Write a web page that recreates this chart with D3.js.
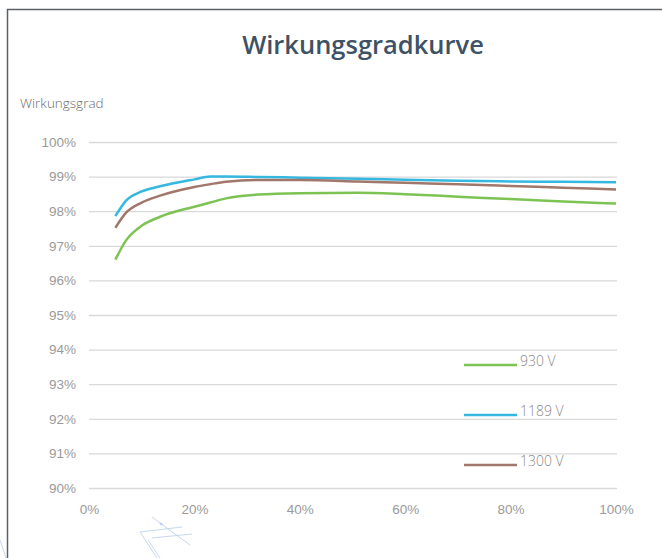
<!DOCTYPE html>
<meta charset="utf-8">
<style>
  body { margin: 0; background: #fff; }
  svg { font-family: "Open Sans", "Noto Sans", sans-serif; }
  .grid line { stroke: #d9d9d9; stroke-width: 1.3; }
  .grid path { display: none; }
  .axis path, .axis line { display: none; }
  .axis text { fill: #9a9a9a; font-size: 13.5px; font-weight: 300; }
  .legend text { fill: #8a8a8a; font-size: 14px; font-weight: 300; }
</style>
<body>
<script src="https://cdn.jsdelivr.net/npm/d3@7"></script>
<script>
  // load in percent
  var load = [5, 7, 10, 13.5, 20, 23, 26, 32, 40, 51, 60, 70, 80, 90, 100];

  // efficiency in percent, one list per DC voltage
  var eff930 = [96.6, 97.15, 97.58, 97.84, 98.13, 98.25, 98.37, 98.48, 98.52, 98.53, 98.49, 98.42, 98.35, 98.28, 98.22];
  var eff1189 = [97.86, 98.3, 98.57, 98.72, 98.92, 99.0, 99.0, 98.99, 98.97, 98.94, 98.91, 98.88, 98.86, 98.85, 98.84];
  var eff1300 = [97.52, 97.95, 98.25, 98.45, 98.7, 98.78, 98.85, 98.9, 98.9, 98.86, 98.82, 98.78, 98.73, 98.68, 98.63];

  var seriesNames = ["930 V", "1189 V", "1300 V"];
  var seriesColors = ["#7cc354", "#35b8e0", "#a0776a"];
  var yTicks = [90, 91, 92, 93, 94, 95, 96, 97, 98, 99, 100];
  var xTicks = [0, 20, 40, 60, 80, 100];

  var W = 662, H = 558;
  var svg = d3.select("body").append("svg").attr("width", W).attr("height", H);

  // outer frame (only top/left edges visible)
  svg.append("path")
    .attr("d", "M7.5," + H + "V9.5H" + W)
    .attr("fill", "none")
    .attr("stroke", "#5a6066")
    .attr("stroke-width", 1.5);

  // faint decorative strokes near the bottom
  var deco = svg.append("g").attr("stroke", "#b7cbe8").attr("stroke-width", 0.8).attr("fill", "none");
  deco.append("path").attr("d", "M152,517 L190,545");
  deco.append("path").attr("d", "M140,532 L157,558");
  deco.append("path").attr("d", "M148,540 L160,558");
  deco.append("path").attr("d", "M140,532 L182,527");
  deco.append("path").attr("d", "M152,538 L192,534");
  deco.append("path").attr("d", "M0,540 L6,558");
  deco.append("circle").attr("cx", 161).attr("cy", 524).attr("r", 1).attr("fill", "#b7cbe8");

  svg.append("text")
    .attr("x", 363).attr("y", 54)
    .attr("text-anchor", "middle")
    .attr("fill", "#3e5266")
    .style("font-size", "25.5px")
    .style("font-weight", "600")
    .text("Wirkungsgradkurve");

  svg.append("text")
    .attr("x", 20).attr("y", 108)
    .attr("fill", "#6b6b6b")
    .style("font-size", "13.5px")
    .style("font-weight", "300")
    .text("Wirkungsgrad");

  var x = d3.scaleLinear().domain([0, 100]).range([89, 616]);
  var y = d3.scaleLinear().domain([90, 100]).range([488, 142]);

  svg.append("g")
    .attr("class", "grid")
    .attr("transform", "translate(89,0)")
    .call(d3.axisLeft(y).tickValues(yTicks).tickSize(-528).tickFormat(""));

  svg.append("g")
    .attr("class", "axis")
    .attr("transform", "translate(76,0)")
    .call(d3.axisLeft(y).tickValues(yTicks).tickSize(0).tickPadding(0).tickFormat(function (d) { return d + "%"; }));

  svg.append("g")
    .attr("class", "axis")
    .attr("transform", "translate(0,502)")
    .call(d3.axisBottom(x).tickValues(xTicks).tickSize(0).tickPadding(0).tickFormat(function (d) { return d + "%"; }))
    .selectAll("text").attr("dy", "0.9em");

  var line = d3.line()
    .x(function (d) { return x(d[0]); })
    .y(function (d) { return y(d[1]); })
    .curve(d3.curveMonotoneX);

  [eff930, eff1189, eff1300].forEach(function (vals, i) {
    svg.append("path")
      .datum(load.map(function (l, k) { return [l, vals[k]]; }))
      .attr("fill", "none")
      .attr("stroke", seriesColors[i])
      .attr("stroke-width", 2.5)
      .attr("d", line);
  });

  var legend = svg.append("g").attr("class", "legend");
  seriesNames.forEach(function (name, i) {
    var ly = 365 + i * 50;
    legend.append("line")
      .attr("x1", 464).attr("x2", 517)
      .attr("y1", ly).attr("y2", ly)
      .attr("stroke", seriesColors[i])
      .attr("stroke-width", 2.5);
    legend.append("text")
      .attr("x", 520).attr("y", ly)
      .attr("dy", "0.1em")
      .text(name);
  });
</script>
</body>
